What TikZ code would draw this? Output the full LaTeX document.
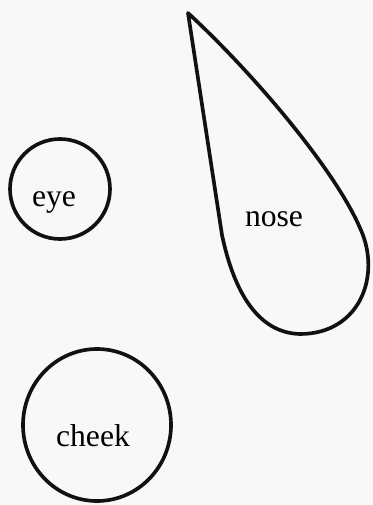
\documentclass[tikz,border=0pt]{standalone}
\usepackage{fontspec}
\setmainfont{Liberation Serif}
\usetikzlibrary{positioning}
\definecolor{paper}{HTML}{F8F8F8}
\definecolor{ink}{HTML}{111111}
\tikzset{
  outline/.style={draw=ink, line width=2.6pt, line join=round},
  word/.style={font=\fontsize{22.5}{26}\selectfont, inner sep=0pt, anchor=base},
}
\begin{document}
\begin{tikzpicture}[x=0.025cm, y=-0.025cm]
\fill[paper] (0,0) rectangle (373,505);
\useasboundingbox (0,0) rectangle (373,505);
% the eye
\draw[outline] (60,189) circle[radius=50];
\node[word] (eye) at (54,206) {eye};
% the nose, a drop with its point at the top
\draw[outline] (188,13) .. controls (255,75) and (335,170) .. (360,228)
  .. controls (382,275) and (360,334) .. (300,334)
  .. controls (258,333) and (234,292) .. (222,235) -- cycle;
\node[word] (nose) at (274,226) {nose};
% the cheek
\draw[outline] (97,425) ellipse[x radius=74, y radius=76];
\node[word] (cheek) at (93,446) {cheek};
\end{tikzpicture}
\end{document}
